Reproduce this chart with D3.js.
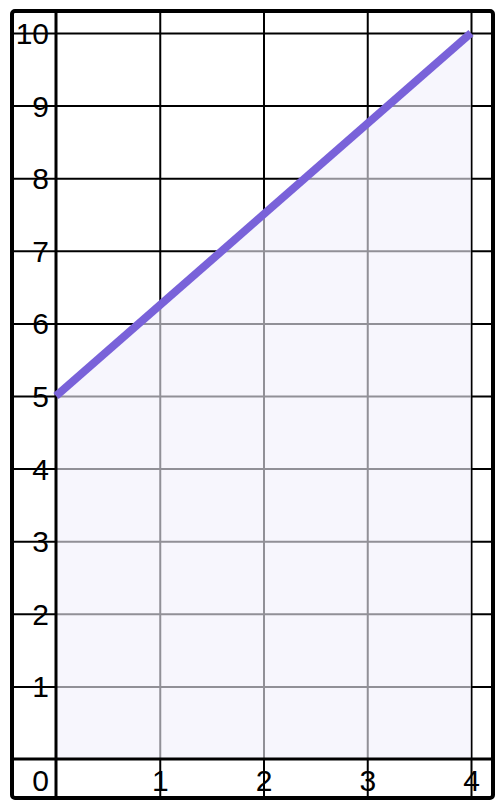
<!DOCTYPE html>
<html>
<head>
<meta charset="utf-8">
<script src="https://cdn.jsdelivr.net/npm/d3@7"></script>
<style>
    html, body { margin: 0; padding: 0; background: #fff; }
    svg { display: block; }
    text { font-family: "Liberation Sans", Arial, sans-serif; }
</style>
</head>
<body>
<svg id="chart" width="503" height="811"></svg>
<script>
// line points
const xValues = [0, 4];
const yValues = [5, 10];
// ticks
const xTicks = [1, 2, 3, 4];
const yTicks = [1, 2, 3, 4, 5, 6, 7, 8, 9, 10];
const originLabel = "0";

const points = xValues.map((d, i) => ({x: d, y: yValues[i]}));

const svg = d3.select("#chart");

const box = {left: 12, top: 11, right: 493, bottom: 798};

const x = d3.scaleLinear()
    .domain([0, 4])
    .range([56, 471]);

const y = d3.scaleLinear()
    .domain([0, 10])
    .range([759, 33]);

// y grid + labels
const yAxis = svg.append("g")
    .attr("transform", `translate(${box.left},0)`)
    .call(d3.axisRight(y)
        .tickValues(yTicks)
        .tickSize(box.right - box.left)
        .tickFormat(d3.format("d")));
yAxis.select(".domain").remove();
yAxis.selectAll("line")
    .attr("stroke", "#000")
    .attr("stroke-width", 2);
yAxis.selectAll("text")
    .attr("x", 49 - box.left)
    .attr("dy", "0.35em")
    .attr("text-anchor", "end")
    .attr("fill", "#000")
    .style("font-size", "30px");

// x grid + labels
const xAxis = svg.append("g")
    .attr("transform", `translate(0,${box.top})`)
    .call(d3.axisBottom(x)
        .tickValues(xTicks)
        .tickSize(box.bottom - box.top)
        .tickFormat(d3.format("d")));
xAxis.select(".domain").remove();
xAxis.selectAll("line")
    .attr("stroke", "#000")
    .attr("stroke-width", 2);
xAxis.selectAll("text")
    .attr("y", 780 - box.top)
    .attr("dy", "0.35em")
    .attr("fill", "#000")
    .style("font-size", "30px");

// area under the line
svg.append("path")
    .datum(points)
    .attr("d", d3.area()
        .x(d => x(d.x))
        .y0(y(0))
        .y1(d => y(d.y)))
    .attr("fill", "rgb(242,240,251)")
    .attr("fill-opacity", 0.6);

// main axis lines
svg.append("line")
    .attr("x1", x(0)).attr("x2", x(0))
    .attr("y1", box.top).attr("y2", box.bottom)
    .attr("stroke", "#000")
    .attr("stroke-width", 3);
svg.append("line")
    .attr("x1", box.left).attr("x2", box.right)
    .attr("y1", y(0)).attr("y2", y(0))
    .attr("stroke", "#000")
    .attr("stroke-width", 3);

svg.append("text")
    .attr("x", 49)
    .attr("y", 780)
    .attr("dy", "0.35em")
    .attr("text-anchor", "end")
    .style("font-size", "30px")
    .text(originLabel);

// the line
svg.append("path")
    .datum(points)
    .attr("d", d3.line().x(d => x(d.x)).y(d => y(d.y)))
    .attr("fill", "none")
    .attr("stroke", "#7962d9")
    .attr("stroke-width", 8);

// outer frame
svg.append("rect")
    .attr("x", box.left)
    .attr("y", box.top)
    .attr("width", box.right - box.left)
    .attr("height", box.bottom - box.top)
    .attr("rx", 3)
    .attr("fill", "none")
    .attr("stroke", "#000")
    .attr("stroke-width", 4);
</script>
</body>
</html>
